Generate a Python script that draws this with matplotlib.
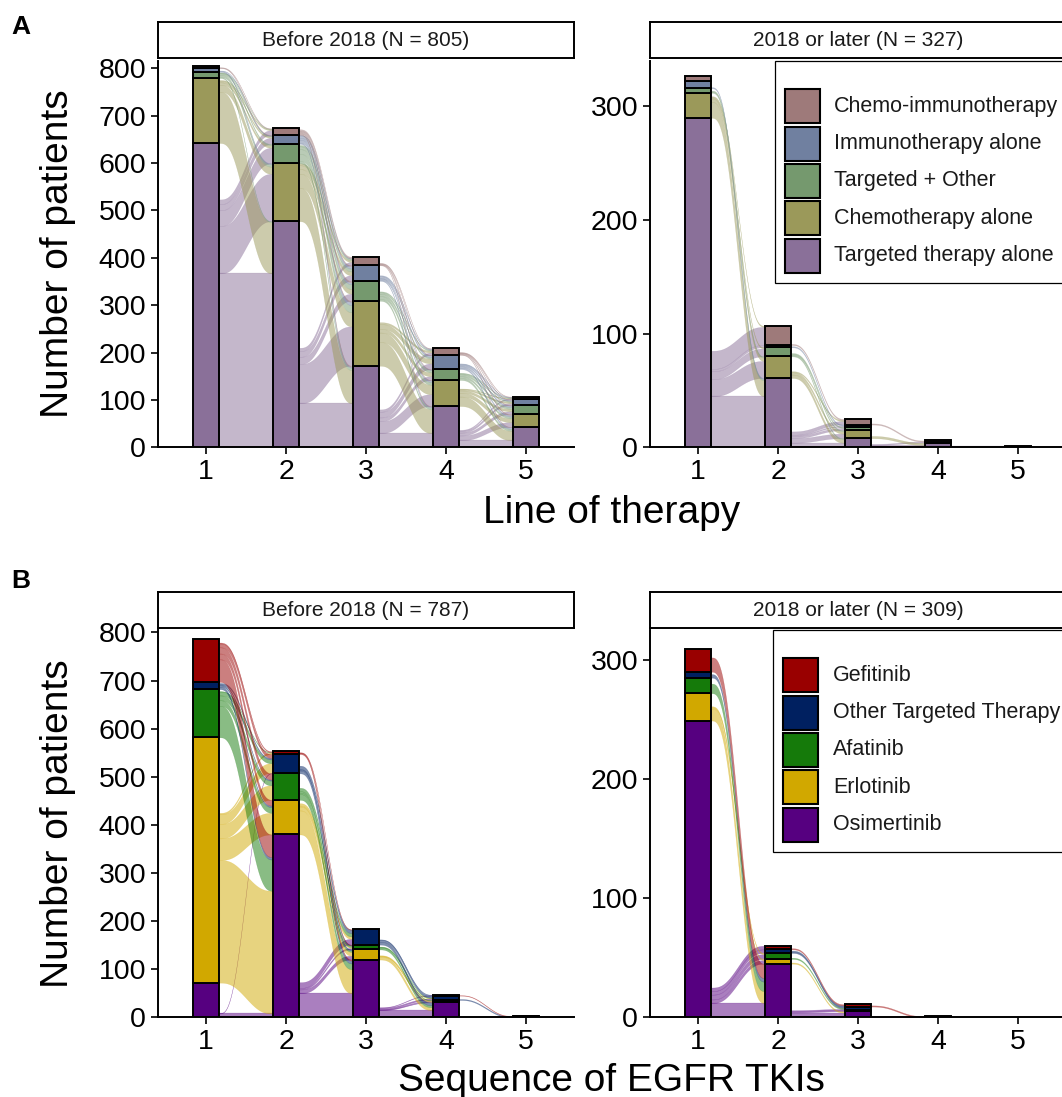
import matplotlib.pyplot as plt
import numpy as np
from matplotlib.colors import to_rgba
from matplotlib.patches import Rectangle

plt.rcParams['font.family'] = ['Liberation Sans', 'DejaVu Sans']

W, H = 1062, 1097

lines = [1, 2, 3, 4, 5]

# Panel A strata, bottom -> top
therapy_types = ["Targeted therapy alone", "Chemotherapy alone", "Targeted + Other",
                 "Immunotherapy alone", "Chemo-immunotherapy"]
therapy_colors = ["#8A7099", "#9B995A", "#75996E", "#7080A0", "#9E7A7A"]

# Panel B strata, bottom -> top
tki_types = ["Osimertinib", "Erlotinib", "Afatinib", "Other Targeted Therapy", "Gefitinib"]
tki_colors = ["#560080", "#D1A800", "#157A0A", "#002060", "#990000"]

# patients per stratum at line 1; transitions: rows = from, cols = to
a_before_first = [642, 137, 13, 8, 5]
a_before_flows = [
    [[367, 100, 33, 13, 10], [108, 15, 5, 3, 2], [2, 5, 3, 1, 1], [0, 2, 0, 1, 0], [0, 0, 0, 1, 1]],
    [[93, 83, 15, 12, 7], [70, 30, 10, 8, 4], [5, 15, 10, 6, 3], [2, 7, 4, 5, 1], [2, 2, 3, 2, 3]],
    [[30, 25, 8, 12, 5], [50, 20, 8, 10, 4], [4, 6, 5, 3, 2], [2, 3, 1, 4, 2], [1, 1, 1, 1, 1]],
    [[15, 10, 6, 4, 2], [20, 8, 5, 3, 1], [4, 4, 4, 2, 1], [3, 3, 3, 2, 1], [1, 2, 1, 1, 1]],
]

a_after_first = [290, 22, 4, 6, 5]
a_after_flows = [
    [[45, 15, 7, 2, 16], [14, 3, 1, 0, 1], [1, 1, 0, 0, 0], [1, 0, 0, 0, 0], [0, 0, 0, 0, 0]],
    [[4, 4, 2, 1, 3], [3, 2, 0, 0, 1], [1, 1, 1, 0, 0], [0, 0, 0, 1, 0], [0, 0, 0, 0, 1]],
    [[2, 0, 1, 0, 0], [2, 0, 0, 0, 0], [0, 0, 0, 0, 0], [0, 0, 0, 0, 0], [0, 0, 0, 0, 1]],
    [[1, 0, 0, 0, 0], [0, 0, 0, 0, 0], [0, 0, 0, 0, 0], [0, 0, 0, 0, 0], [0, 0, 0, 0, 0]],
]

b_before_first = [72, 510, 100, 15, 90]
b_before_flows = [
    [[8, 0, 0, 1, 0], [255, 45, 30, 20, 3], [65, 12, 10, 8, 1], [5, 3, 2, 3, 0], [47, 12, 13, 8, 2]],
    [[50, 8, 3, 12, 0], [50, 8, 2, 5, 0], [12, 3, 3, 7, 0], [6, 2, 1, 7, 0], [2, 0, 1, 1, 0]],
    [[15, 1, 1, 3, 1], [6, 1, 1, 1, 0], [4, 0, 1, 1, 0], [6, 0, 0, 4, 1], [0, 0, 0, 0, 0]],
    [[0, 0, 0, 0, 0], [0, 0, 0, 0, 0], [0, 0, 0, 0, 0], [0, 0, 0, 2, 0], [0, 0, 0, 0, 1]],
]

b_after_first = [249, 23, 13, 5, 19]
b_after_flows = [
    [[12, 3, 4, 3, 3], [10, 1, 1, 0, 0], [8, 0, 0, 0, 0], [3, 0, 0, 0, 0], [12, 0, 0, 0, 0]],
    [[4, 0, 1, 1, 0], [1, 0, 0, 0, 0], [0, 0, 0, 1, 0], [0, 0, 0, 1, 1], [0, 0, 0, 0, 1]],
    [[0, 0, 0, 0, 0], [0, 0, 0, 0, 0], [0, 0, 0, 0, 0], [0, 0, 0, 0, 0], [0, 0, 0, 0, 1]],
    [[0, 0, 0, 0, 0], [0, 0, 0, 0, 0], [0, 0, 0, 0, 0], [0, 0, 0, 0, 0], [0, 0, 0, 0, 0]],
]

strip_titles = ["Before 2018 (N = 805)", "2018 or later (N = 327)",
                "Before 2018 (N = 787)", "2018 or later (N = 309)"]


def px_box(l, t, r, b):
    return [l / W, 1 - b / H, (r - l) / W, (b - t) / H]


def draw_alluvial(ax, first, flows, colors, width=1/3):
    counts = [np.array(first, float)]
    for m in flows:
        counts.append(np.array(m, float).sum(axis=0))
    t = np.linspace(0, 1, 80)
    s = t ** 3 * (10 - 15 * t + 6 * t ** 2)
    for k, m in enumerate(flows):
        m = np.array(m, float)
        out_pos = np.concatenate([[0], np.cumsum(counts[k])[:-1]])
        in_pos = np.concatenate([[0], np.cumsum(counts[k + 1])[:-1]])
        x0 = lines[k] + width / 2
        x1 = lines[k + 1] - width / 2
        xs = x0 + (x1 - x0) * t
        for i in range(5):
            for j in range(5):
                f = m[i, j]
                if f <= 0:
                    continue
                y0, y1 = out_pos[i], in_pos[j]
                lower = y0 + (y1 - y0) * s
                ax.fill_between(xs, lower, lower + f, facecolor=to_rgba(colors[i], 0.5),
                                edgecolor=to_rgba(colors[i], 0.3), linewidth=0.3, zorder=1)
                out_pos[i] += f
                in_pos[j] += f
    for k in range(5):
        bottom = 0
        for i in range(5):
            h = counts[k][i]
            if h > 0:
                ax.bar(lines[k], h, bottom=bottom, width=width, color=colors[i],
                       edgecolor='black', linewidth=1.4, zorder=3)
            bottom += h


def style_axes(ax, ymax, yticks):
    ax.set_xlim(0.4, 5.6)
    ax.set_ylim(0, ymax)
    ax.set_xticks(lines)
    ax.set_yticks(yticks)
    for sp in ['top', 'right']:
        ax.spines[sp].set_visible(False)
    for sp in ['left', 'bottom']:
        ax.spines[sp].set_linewidth(1.4)
    ax.tick_params(length=5, width=1.2, labelsize=20.5, pad=3.5, colors='black')


def add_strip(box, text):
    sa = fig.add_axes(box)
    sa.set_xticks([])
    sa.set_yticks([])
    for sp in sa.spines.values():
        sp.set_linewidth(1.4)
    sa.text(0.5, 0.5, text, ha='center', va='center', fontsize=15, color='#1a1a1a',
            transform=sa.transAxes)


fig = plt.figure(figsize=(W / 100, H / 100), dpi=100)

panels = [
    (px_box(158, 61, 574, 447.3), a_before_first, a_before_flows, therapy_colors, 815, range(0, 801, 100)),
    (px_box(650, 61, 1066, 447.3), a_after_first, a_after_flows, therapy_colors, 340, range(0, 301, 100)),
    (px_box(158, 630, 574, 1017.3), b_before_first, b_before_flows, tki_colors, 805, range(0, 801, 100)),
    (px_box(650, 630, 1066, 1017.3), b_after_first, b_after_flows, tki_colors, 325, range(0, 301, 100)),
]
strip_boxes = [px_box(158, 21.7, 574, 58.3), px_box(650, 21.7, 1066, 58.3),
               px_box(158, 592.3, 574, 627.7), px_box(650, 592.3, 1066, 627.7)]

for (box, first, flows, colors, ymax, yt), sbox, title in zip(panels, strip_boxes, strip_titles):
    ax = fig.add_axes(box)
    draw_alluvial(ax, first, flows, colors)
    style_axes(ax, ymax, yt)
    add_strip(sbox, title)

# overlay in pixel coordinates for titles, panel letters and legends
ov = fig.add_axes([0, 0, 1, 1], zorder=10)
ov.set_xlim(0, W)
ov.set_ylim(H, 0)
ov.axis('off')

ov.text(11, 34, "A", fontsize=19, fontweight='bold', va='baseline')
ov.text(11, 588, "B", fontsize=19, fontweight='bold', va='baseline')
ov.text(58, 254, "Number of patients", fontsize=28, rotation=90, ha='center', va='center')
ov.text(58, 824, "Number of patients", fontsize=28, rotation=90, ha='center', va='center')
ov.text(612, 523, "Line of therapy", fontsize=28, ha='center', va='baseline')
ov.text(611, 1091, "Sequence of EGFR TKIs", fontsize=28, ha='center', va='baseline')


def draw_legend(box_l, box_t, box_b, key_l, key_t0, label_x, labels, colors):
    ov.add_patch(Rectangle((box_l, box_t), 400, box_b - box_t, facecolor='white',
                           edgecolor='black', linewidth=0.9))
    for n, (lab, col) in enumerate(zip(labels, colors)):
        kt = key_t0 + n * 37.3
        ov.add_patch(Rectangle((key_l, kt), 35, 34, facecolor=col, edgecolor='black', linewidth=1.5))
        ov.text(label_x, kt + 17, lab, fontsize=15.5, va='center', ha='left', color='#1a1a1a')


draw_legend(775, 61, 282.7, 785, 89.3, 834, therapy_types[::-1], therapy_colors[::-1])
draw_legend(773, 630, 851.7, 783, 658.3, 833, tki_types[::-1], tki_colors[::-1])

fig.savefig("out.png", dpi=100)
